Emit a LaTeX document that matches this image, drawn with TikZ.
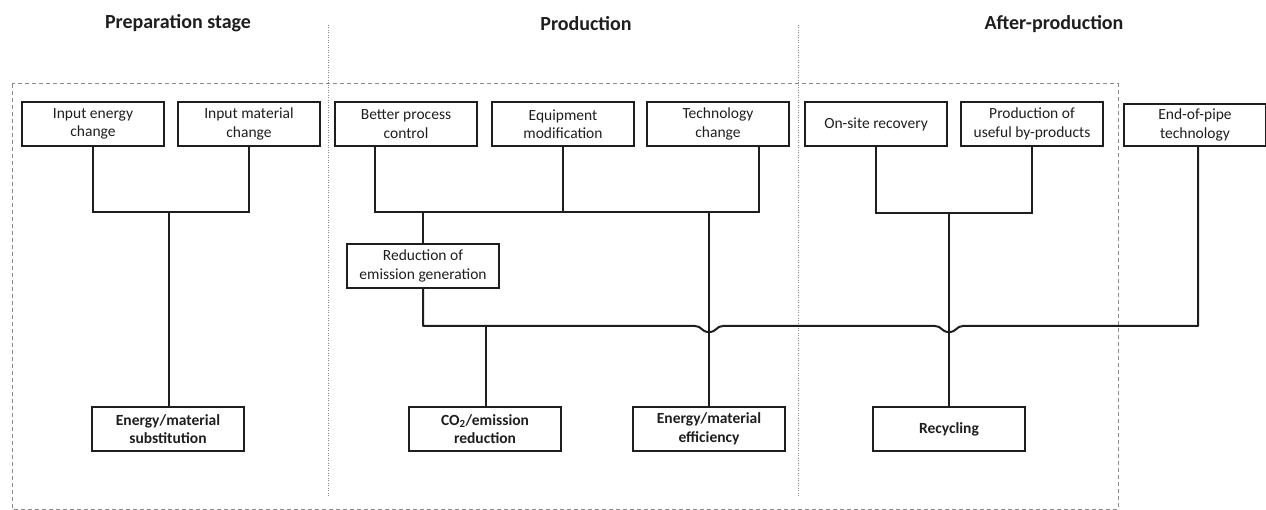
\documentclass[tikz,border=0pt]{standalone}
\usepackage{fontspec}
\setmainfont{Carlito}
\usetikzlibrary{calc}
\definecolor{ink}{HTML}{1E1E1E}
\definecolor{guide}{HTML}{8A8A8A}
\tikzset{
  box/.style={draw=ink, line width=2pt, inner sep=0pt, align=center,
    text=ink, font=\fontsize{15.5}{18.5}\selectfont},
  topbox/.style={box, minimum width=142pt, minimum height=44pt},
  outbox/.style={box, minimum width=152pt, minimum height=44pt,
    font=\fontsize{15.5}{18.5}\selectfont\bfseries},
  conn/.style={draw=ink, line width=2pt},
  stagetitle/.style={font=\fontsize{20}{24}\selectfont\bfseries, text=ink},
  frame/.style={draw=guide, line width=1pt, dash pattern=on 4pt off 3pt},
  divider/.style={draw=guide, line width=1pt, dash pattern=on 1pt off 1.5pt},
}
\begin{document}
\begin{tikzpicture}[x=1pt, y=-1pt]
\useasboundingbox (0,0) rectangle (1266,510);

% frame and dividers
\draw[frame] (12,84) rectangle (1118,509);
\coordinate (d1t) at (328,25); \coordinate (d1b) at (328,497);
\coordinate (d2t) at (798,25); \coordinate (d2b) at (798,497);
\draw[divider] (d1t) -- (d1b);
\draw[divider] (d2t) -- (d2b);

% titles
\node[stagetitle] (t1) at (178,23) {Preparation stage};
\node[stagetitle] (t2) at (586,24) {Production};
\node[stagetitle] (t3) at (1054,24) {After-production};

% top boxes
\node[topbox] (iec) at (93,124) {Input energy\\change};
\node[topbox] (imc) at (249,124) {Input material\\change};
\node[topbox] (bpc) at (406,124) {Better process\\control};
\node[topbox] (eqm) at (563,124) {Equipment\\modification};
\node[topbox] (tch) at (718,124) {Technology\\change};
\node[topbox] (osr) at (876,124) {On-site recovery};
\node[topbox] (puf) at (1032,124) {Production of\\useful by-products};
\node[topbox, minimum height=42pt] (eop) at (1195,125) {End-of-pipe\\technology};

% middle box
\node[topbox, minimum width=152pt] (rdc) at (423,266) {Reduction of\\emission generation};

% outcome boxes
\node[outbox] (ems) at (168,429) {Energy/material\\substitution};
\node[outbox] (co2) at (485,429) {CO\textsubscript{2}/emission\\reduction};
\node[outbox] (eme) at (709,429) {Energy/material\\efficiency};
\node[outbox] (rec) at (949,429) {Recycling};

% preparation connectors
\coordinate (b1) at (169,212);
\draw[conn] (iec.south) |- (b1) -| (imc.south);
\draw[conn] (b1) -- (ems.north -| b1);

% production connectors
\coordinate (bpco) at ([xshift=-31pt]bpc.south);
\coordinate (tcho) at ([xshift=41pt]tch.south);
\coordinate (b2) at (563,212);
\draw[conn] (bpco) |- (b2) -| (tcho);
\draw[conn] (eqm.south) -- (eqm.south |- b2);
\draw[conn] (rdc.north) -- (rdc.north |- b2);
\draw[conn] (eme.north |- b2) -- (eme.north);

% after-production connectors
\coordinate (b3) at (949,213);
\draw[conn] (osr.south) |- (b3) -| (puf.south);
\draw[conn] (b3) -- (rec.north);

% main emission bus with hops
\coordinate (b4) at (486,326);
\coordinate (h1) at (eme.north |- b4);
\coordinate (h2) at (b3 |- b4);
\coordinate (eopb) at ([xshift=3pt]eop.south);
\draw[conn, line join=round] (rdc.south) |- (b4)
  -- ([xshift=-14pt]h1)
  .. controls ([xshift=-7pt]h1) and ([xshift=-8pt,yshift=-6pt]h1) .. ([yshift=-6pt]h1)
  .. controls ([xshift=8pt,yshift=-6pt]h1) and ([xshift=7pt]h1) .. ([xshift=14pt]h1)
  -- ([xshift=-14pt]h2)
  .. controls ([xshift=-7pt]h2) and ([xshift=-8pt,yshift=-6pt]h2) .. ([yshift=-6pt]h2)
  .. controls ([xshift=8pt,yshift=-6pt]h2) and ([xshift=7pt]h2) .. ([xshift=14pt]h2)
  -- (eopb |- b4) -- (eopb);
\draw[conn] (b4) -- (co2.north -| b4);
\end{tikzpicture}
\end{document}
